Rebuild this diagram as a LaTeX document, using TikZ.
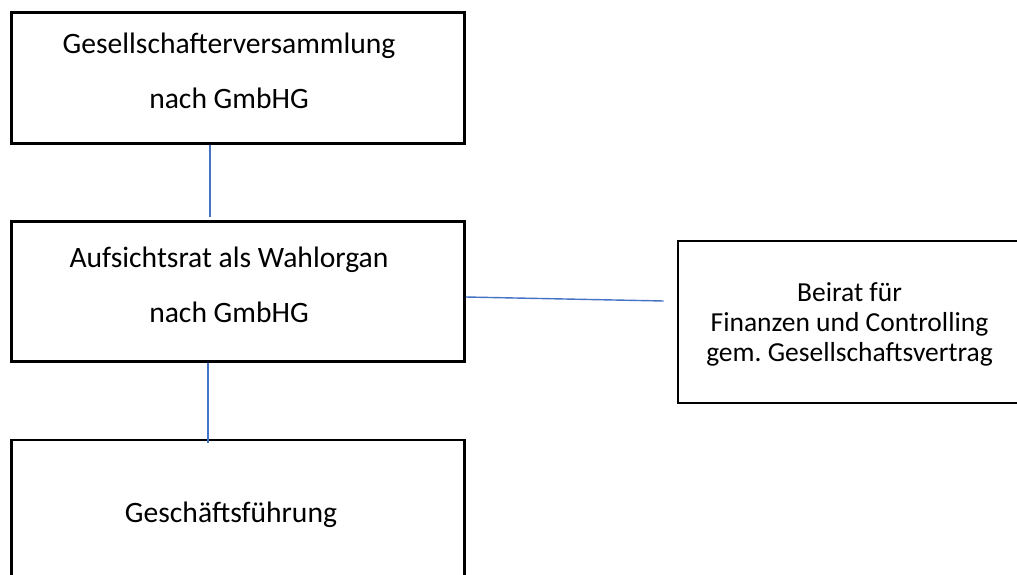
\documentclass[tikz,border=0pt]{standalone}
\usepackage{fontspec}
\setmainfont{Carlito}
\usepackage{xcolor}
\definecolor{linkblue}{HTML}{4472C4}
\frenchspacing

\begin{document}
\begin{tikzpicture}[node distance=213.5pt]
    % Define styles
    \tikzstyle{organ} = [rectangle, minimum width=453pt, text centered, align=center, draw=black, line width=2.6pt, inner sep=0pt, font=\fontsize{29.6}{55}\selectfont]
    \tikzstyle{board} = [rectangle, minimum width=343pt, minimum height=162pt, text centered, align=center, draw=black, line width=2.6pt, inner sep=0pt, font=\fontsize{27.5}{30}\selectfont]
    \tikzstyle{link} = [draw=linkblue, line width=1.4pt]

    \useasboundingbox (0pt,0pt) rectangle (1017pt,-575pt);

    % Organs
    \node (gesellschafter) [organ, minimum height=131pt, text depth=14pt] at (238pt,-78pt) {Gesellschafterversammlung\hspace*{18pt}\\nach GmbHG\hspace*{18pt}};
    \node (aufsichtsrat) [organ, minimum height=140pt, text depth=14pt, below of=gesellschafter] {Aufsichtsrat als Wahlorgan\hspace*{18pt}\\nach GmbHG\hspace*{18pt}};
    \node (fuehrung) [organ, minimum height=150pt, below of=aufsichtsrat, yshift=-10pt] {Geschäftsführung\hspace*{14pt}};
    \node (beirat) [board, text depth=-2pt, node distance=611.5pt, right of=aufsichtsrat, yshift=-30.5pt] {Beirat für\\Finanzen und Controlling\\gem. Gesellschaftsvertrag};

    % Lines
    \draw [link] ([xshift=-28pt]gesellschafter.south) -- ([xshift=-28pt,yshift=3pt]aufsichtsrat.north);
    \draw [link] ([yshift=-5.5pt]aufsichtsrat.east) -- ([xshift=-13pt,yshift=21pt]beirat.west);
    \draw [link] ([xshift=-30pt]aufsichtsrat.south) -- ([xshift=-30pt,yshift=-4pt]fuehrung.north);
\end{tikzpicture}
\end{document}
